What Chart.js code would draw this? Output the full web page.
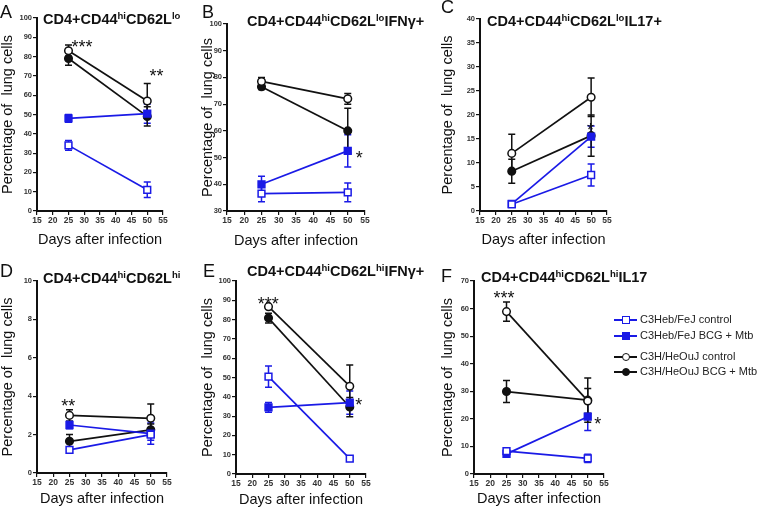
<!DOCTYPE html>
<html>
<head>
<meta charset="utf-8">
<script src="https://cdn.jsdelivr.net/npm/chart.js@4.4.0/dist/chart.umd.min.js"></script>
<style>
  body { margin: 0; background: #fff; }
  #fig { position: relative; width: 760px; height: 507px; overflow: hidden; font-family: Arial, 'Liberation Sans', sans-serif; color: #111; }
  #fig canvas { position: absolute; }
  .letter { position: absolute; font-size: 18px; line-height: 1; }
  .ttl { position: absolute; font-weight: bold; font-size: 14.5px; line-height: 1; white-space: nowrap; }
  .ttl span { font-size: 9.5px; position: relative; top: -5.5px; }
  .lg-line { position: absolute; height: 2px; width: 23px; }
  .lg-mark { position: absolute; box-sizing: border-box; }
  .lg-text { position: absolute; font-size: 11px; line-height: 1; white-space: nowrap; color: #222; }
</style>
</head>
<body>
<div id="fig">
  <div class="letter" style="left:0px;top:3px">A</div>
  <div class="letter" style="left:202px;top:3px">B</div>
  <div class="letter" style="left:441px;top:-2px">C</div>
  <div class="letter" style="left:0px;top:262px">D</div>
  <div class="letter" style="left:203px;top:262px">E</div>
  <div class="letter" style="left:441px;top:267px">F</div>

  <div class="ttl" style="left:43px;top:12px">CD4+CD44<span>hi</span>CD62L<span>lo</span></div>
  <div class="ttl" style="left:247px;top:14px">CD4+CD44<span>hi</span>CD62L<span>lo</span>IFNγ+</div>
  <div class="ttl" style="left:487px;top:14px">CD4+CD44<span>hi</span>CD62L<span>lo</span>IL17+</div>
  <div class="ttl" style="left:43px;top:271px">CD4+CD44<span>hi</span>CD62L<span>hi</span></div>
  <div class="ttl" style="left:247px;top:264px">CD4+CD44<span>hi</span>CD62L<span>hi</span>IFNγ+</div>
  <div class="ttl" style="left:481px;top:270px">CD4+CD44<span>hi</span>CD62L<span>hi</span>IL17</div>
</div>
<script>
// x values (days after infection) and the four groups
const days = [25, 50];
const groupNames = ['C3Heb/FeJ control', 'C3Heb/FeJ BCG + Mtb', 'C3H/HeOuJ control', 'C3H/HeOuJ BCG + Mtb'];
const xTicks = [15, 55, 5];

// means per group [day25, day50], same order as groupNames
const meansA = [[34, 11], [48, 50.5], [83, 57], [79, 49]];
const errsA  = [[2.5, 4], [2, 5], [3, 9], [3.5, 5]];
const meansB = [[36.5, 37], [40, 52.5], [78.5, 72], [76.5, 60]];
const errsB  = [[3, 3.5], [3, 6], [1.5, 2], [1, 8.5]];
const meansC = [[1.4, 7.5], [1.5, 15.5], [12, 23.7], [8.3, 15.7]];
const errsC  = [[0.3, 2.3], [0.4, 2.2], [4, 4], [2.5, 4.3]];
const meansD = [[1.2, 2.0], [2.5, 2.05], [3.0, 2.85], [1.65, 2.25]];
const errsD  = [[0.1, 0.3], [0.2, 0.55], [0.3, 0.75], [0.35, 0.3]];
const meansE = [[50.5, 8], [34.5, 37], [86.7, 45.5], [80.8, 34.7]];
const errsE  = [[5.5, 1], [2.5, 6], [1, 11], [2.5, 5]];
const meansF = [[8.3, 5.7], [7.3, 20.8], [58.9, 26.5], [29.9, 26.8]];
const errsF  = [[1, 1.5], [1, 5], [3.5, 4.5], [4, 8]];

// y axis ranges [min, max, step]
const yRangeA = [0, 100, 10];
const yRangeB = [30, 100, 10];
const yRangeC = [0, 40, 5];
const yRangeD = [0, 10, 2];
const yRangeE = [0, 100, 10];
const yRangeF = [0, 70, 10];

// significance marks [day, value, text]
const starsA = [[29.3, 87, '***'], [52.9, 72.2, '**']];
const starsB = [[53.3, 51.3, '*']];
const starsC = [[49.8, 17.8, '*']];
const starsD = [[24.6, 3.71, '**']];
const starsE = [[24.9, 90.2, '***'], [52.8, 38, '*']];
const starsF = [[24.2, 65.5, '***'], [53.1, 19.6, '*']];

const BLUE = '#1a1ae6';
const lineColors = [BLUE, BLUE, '#111', '#111'];
const fillColors = ['#fff', BLUE, '#fff', '#111'];
const shapes = ['rect', 'rect', 'circle', 'circle'];
const radii = [4.8, 4.8, 3.8, 3.8];

const fig = document.getElementById('fig');

// error bars drawn under the markers
const errorBars = {
  id: 'errorBars',
  beforeDatasetsDraw(chart) {
    const ctx = chart.ctx, xs = chart.scales.x, ys = chart.scales.y;
    ctx.save();
    chart.data.datasets.forEach(ds => {
      ctx.strokeStyle = ds.borderColor;
      ctx.lineWidth = 1.5;
      ds.data.forEach((pt, j) => {
        const e = ds.errors[j];
        const px = xs.getPixelForValue(pt.x);
        const top = ys.getPixelForValue(pt.y + e);
        const bot = ys.getPixelForValue(Math.max(pt.y - e, ys.min));
        ctx.beginPath();
        ctx.moveTo(px, top); ctx.lineTo(px, bot);
        ctx.moveTo(px - 3.5, top); ctx.lineTo(px + 3.5, top);
        if (pt.y - e > ys.min) { ctx.moveTo(px - 3.5, bot); ctx.lineTo(px + 3.5, bot); }
        ctx.stroke();
      });
    });
    ctx.restore();
  }
};

const sigStars = {
  id: 'sigStars',
  afterDatasetsDraw(chart, args, opts) {
    const ctx = chart.ctx, xs = chart.scales.x, ys = chart.scales.y;
    ctx.save();
    ctx.font = '18px Arial';
    ctx.fillStyle = '#111';
    ctx.textAlign = 'center';
    ctx.textBaseline = 'alphabetic';
    (opts.marks || []).forEach(m => {
      ctx.fillText(m[2], xs.getPixelForValue(m[0]), ys.getPixelForValue(m[1]) + 10.3);
    });
    ctx.restore();
  }
};

const tickFont = "Arial, 'Liberation Sans', sans-serif";

function panel(p) {
  const cv = document.createElement('canvas');
  cv.width = p.w; cv.height = p.h;
  cv.style.left = p.left + 'px'; cv.style.top = p.top + 'px';
  fig.insertBefore(cv, fig.firstChild);
  const [L, R, T, B] = p.area;
  new Chart(cv, {
    type: 'line',
    data: {
      datasets: groupNames.map((name, i) => ({
        label: name,
        data: days.map((d, j) => ({ x: d, y: p.means[i][j] })),
        errors: p.errs[i],
        borderColor: lineColors[i],
        backgroundColor: fillColors[i],
        pointBorderColor: lineColors[i],
        pointBackgroundColor: fillColors[i],
        pointStyle: shapes[i],
        pointRadius: radii[i],
        pointBorderWidth: 1.5,
        borderWidth: 1.7,
        tension: 0
      }))
    },
    options: {
      responsive: false,
      animation: false,
      events: [],
      layout: { padding: { left: 0, top: T - p.top, right: p.left + p.w - R, bottom: 0 } },
      scales: {
        x: {
          type: 'linear', min: xTicks[0], max: xTicks[1],
          afterFit: s => { s.height = p.top + p.h - B; },
          ticks: { stepSize: xTicks[2], padding: 1, autoSkip: false, maxRotation: 0, minRotation: 0,
                   color: '#333', font: { family: tickFont, size: 8.5, weight: 'bold' } },
          grid: { drawOnChartArea: false, color: '#111', lineWidth: 1.2, tickLength: 4 },
          border: { color: '#111', width: 2 },
          title: { display: true, text: 'Days after infection', color: '#111',
                   font: { family: 'Arial', size: 14.5, lineHeight: 1 }, padding: { top: 0, bottom: p.xPad } }
        },
        y: {
          min: p.y[0], max: p.y[1],
          afterFit: s => { s.width = L - p.left; },
          ticks: { stepSize: p.y[2], padding: 1, autoSkip: false,
                   color: '#333', font: { family: tickFont, size: 7.5, weight: 'bold' } },
          grid: { drawOnChartArea: false, color: '#111', lineWidth: 1.2, tickLength: 4 },
          border: { color: '#111', width: 2 },
          title: { display: true, text: 'Percentage of  lung cells', color: '#111',
                   font: { family: 'Arial', size: 14.5, lineHeight: 1 }, padding: { top: p.yPad, bottom: 0 } }
        }
      },
      plugins: {
        legend: { display: false },
        tooltip: { enabled: false },
        sigStars: { marks: p.stars }
      }
    },
    plugins: [errorBars, sigStars]
  });
}

panel({ left: 0,   top: 0,   w: 200, h: 250, area: [37, 163, 18, 211],  y: yRangeA, means: meansA, errs: errsA, stars: starsA, xPad: 2.75, yPad: 0.25 });
panel({ left: 190, top: 0,   w: 250, h: 250, area: [227, 365, 24, 211], y: yRangeB, means: meansB, errs: errsB, stars: starsB, xPad: 1.75, yPad: 10.75 });
panel({ left: 430, top: 0,   w: 330, h: 250, area: [480, 607, 19, 211], y: yRangeC, means: meansC, errs: errsC, stars: starsC, xPad: 3.25, yPad: 10.25 });
panel({ left: 0,   top: 250, w: 200, h: 257, area: [37, 167, 281, 473], y: yRangeD, means: meansD, errs: errsD, stars: starsD, xPad: 0.75, yPad: 0.25 });
panel({ left: 190, top: 250, w: 250, h: 257, area: [236, 366, 281, 474], y: yRangeE, means: meansE, errs: errsE, stars: starsE, xPad: 0.25, yPad: 10.25 });
panel({ left: 430, top: 250, w: 330, h: 257, area: [474, 604, 281, 474], y: yRangeF, means: meansF, errs: errsF, stars: starsF, xPad: 1.25, yPad: 10.25 });

// legend beside panel F
const legendRows = [320, 336, 357, 372];
groupNames.forEach((name, i) => {
  const cy = legendRows[i];
  const ln = document.createElement('div');
  ln.className = 'lg-line';
  ln.style.cssText = `left:614px;top:${cy - 1}px;background:${lineColors[i]}`;
  fig.appendChild(ln);
  const mk = document.createElement('div');
  mk.className = 'lg-mark';
  const sz = 8;
  mk.style.cssText = `left:${625.5 - sz / 2}px;top:${cy - sz / 2}px;width:${sz}px;height:${sz}px;` +
    `background:${fillColors[i]};border:1.5px solid ${lineColors[i]};` +
    (shapes[i] === 'circle' ? 'border-radius:50%;' : '');
  fig.appendChild(mk);
  const tx = document.createElement('div');
  tx.className = 'lg-text';
  tx.textContent = name;
  tx.style.cssText = `left:640px;top:${cy - 6}px`;
  fig.appendChild(tx);
});
</script>
</body>
</html>
